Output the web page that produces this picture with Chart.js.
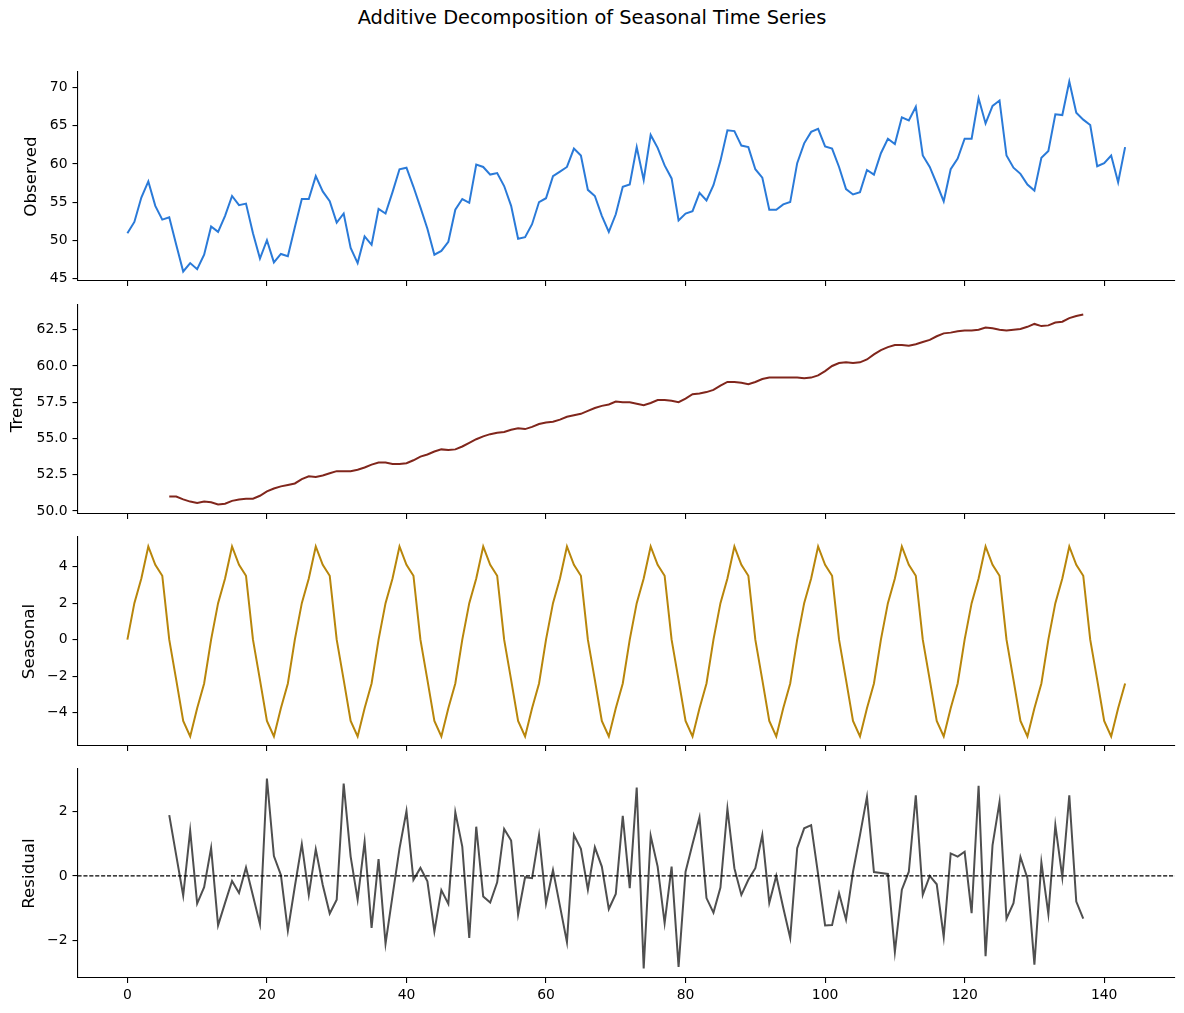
<!DOCTYPE html>
<html>
<head>
<meta charset="utf-8">
<script src="https://cdn.jsdelivr.net/npm/chart.js@4.4.1/dist/chart.umd.min.js"></script>
<style>
html,body{margin:0;padding:0;background:#fff;}
body{width:1184px;height:1013px;position:relative;overflow:hidden;font-family:'DejaVu Sans',sans-serif;}
#title{position:absolute;left:0;width:1184px;top:6px;text-align:center;font-size:19.4px;line-height:24px;color:#000;}
.panel{position:absolute;left:0;width:1184px;}
</style>
</head>
<body>
<div id="title">Additive Decomposition of Seasonal Time Series</div>
<div class="panel" id="p0"><canvas id="c0"></canvas></div>
<div class="panel" id="p1"><canvas id="c1"></canvas></div>
<div class="panel" id="p2"><canvas id="c2"></canvas></div>
<div class="panel" id="p3"><canvas id="c3"></canvas></div>
<script>
// ---------------- DATA ----------------
const timeIndex = Array.from({length: 144}, (_, i) => i);

const observed = [
  50.9, 52.4, 55.6, 57.7, 54.5, 52.7, 53.0, 49.4, 45.9, 47.0, 46.2, 48.1,
  51.8, 51.1, 53.2, 55.8, 54.6, 54.8, 50.9, 47.6, 50.0, 47.1, 48.2, 47.9,
  51.7, 55.4, 55.4, 58.4, 56.4, 55.1, 52.3, 53.5, 49.0, 47.0, 50.5, 49.4,
  54.1, 53.5, 56.3, 59.3, 59.5, 57.0, 54.3, 51.5, 48.1, 48.6, 49.8, 54.0,
  55.4, 54.9, 59.9, 59.6, 58.6, 58.8, 57.1, 54.5, 50.2, 50.4, 52.1, 55.0,
  55.5, 58.4, 59.0, 59.6, 62.0, 61.1, 56.6, 55.8, 53.2, 51.1, 53.4, 57.0,
  57.3, 62.2, 57.9, 63.8, 62.1, 59.8, 58.1, 52.6, 53.5, 53.8, 56.2, 55.2,
  57.2, 60.4, 64.4, 64.3, 62.4, 62.2, 59.3, 58.2, 54.0, 54.0, 54.7, 55.0,
  60.1, 62.7, 64.2, 64.6, 62.3, 62.0, 59.6, 56.7, 56.0, 56.3, 59.2, 58.6,
  61.4, 63.3, 62.6, 66.1, 65.7, 67.5, 61.1, 59.6, 57.4, 55.1, 59.3, 60.7,
  63.3, 63.3, 68.6, 65.3, 67.6, 68.3, 61.1, 59.5, 58.7, 57.3, 56.5, 60.8,
  61.7, 66.5, 66.4, 70.8, 66.7, 65.8, 65.1, 59.7, 60.1, 61.1, 57.6, 62.2
];

// trend and residual are defined from time index 6 to 137
const componentStart = 6;

const trend = [
  51.0, 51.0, 50.8, 50.65, 50.55, 50.65, 50.6, 50.45, 50.5, 50.7, 50.8, 50.85, 50.85, 51.05,
  51.35, 51.55, 51.7, 51.8, 51.9, 52.2, 52.4, 52.35, 52.45, 52.6, 52.75, 52.75, 52.75, 52.85,
  53.0, 53.2, 53.35, 53.35, 53.25, 53.25, 53.3, 53.5, 53.75, 53.9, 54.1, 54.25, 54.2, 54.25,
  54.45, 54.7, 54.95, 55.15, 55.3, 55.4, 55.45, 55.6, 55.7, 55.65, 55.8, 56.0, 56.1, 56.15,
  56.3, 56.5, 56.6, 56.7, 56.9, 57.1, 57.25, 57.35, 57.55, 57.5, 57.5, 57.4, 57.3, 57.45,
  57.65, 57.65, 57.6, 57.5, 57.75, 58.05, 58.1, 58.2, 58.35, 58.65, 58.9, 58.9, 58.85, 58.75,
  58.9, 59.1, 59.2, 59.2, 59.2, 59.2, 59.2, 59.15, 59.2, 59.35, 59.65, 60.0, 60.2, 60.25,
  60.2, 60.25, 60.45, 60.8, 61.1, 61.3, 61.45, 61.45, 61.4, 61.5, 61.65, 61.8, 62.05, 62.25,
  62.3, 62.4, 62.45, 62.45, 62.5, 62.65, 62.6, 62.5, 62.45, 62.5, 62.55, 62.7, 62.9, 62.75,
  62.8, 63.0, 63.05, 63.3, 63.45, 63.55
];

const seasonal = [
  0.0, 2.0, 3.35, 5.1, 4.1, 3.5, 0.0, -2.2, -4.45, -5.3, -3.75, -2.4,
  0.0, 2.0, 3.35, 5.1, 4.1, 3.5, 0.0, -2.2, -4.45, -5.3, -3.75, -2.4,
  0.0, 2.0, 3.35, 5.1, 4.1, 3.5, 0.0, -2.2, -4.45, -5.3, -3.75, -2.4,
  0.0, 2.0, 3.35, 5.1, 4.1, 3.5, 0.0, -2.2, -4.45, -5.3, -3.75, -2.4,
  0.0, 2.0, 3.35, 5.1, 4.1, 3.5, 0.0, -2.2, -4.45, -5.3, -3.75, -2.4,
  0.0, 2.0, 3.35, 5.1, 4.1, 3.5, 0.0, -2.2, -4.45, -5.3, -3.75, -2.4,
  0.0, 2.0, 3.35, 5.1, 4.1, 3.5, 0.0, -2.2, -4.45, -5.3, -3.75, -2.4,
  0.0, 2.0, 3.35, 5.1, 4.1, 3.5, 0.0, -2.2, -4.45, -5.3, -3.75, -2.4,
  0.0, 2.0, 3.35, 5.1, 4.1, 3.5, 0.0, -2.2, -4.45, -5.3, -3.75, -2.4,
  0.0, 2.0, 3.35, 5.1, 4.1, 3.5, 0.0, -2.2, -4.45, -5.3, -3.75, -2.4,
  0.0, 2.0, 3.35, 5.1, 4.1, 3.5, 0.0, -2.2, -4.45, -5.3, -3.75, -2.4,
  0.0, 2.0, 3.35, 5.1, 4.1, 3.5, 0.0, -2.2, -4.45, -5.3, -3.75, -2.4
];

const residual = [
  1.89, 0.64, -0.61, 1.41, -0.86, -0.35, 0.87, -1.54, -0.84, -0.16, -0.53, 0.26, -0.62, -1.5,
  3.03, 0.62, 0.03, -1.7, -0.33, 0.99, -0.59, 0.83, -0.28, -1.17, -0.74, 2.87, 0.6, -0.74,
  1.06, -1.62, 0.52, -2.11, -0.62, 0.85, 2.02, -0.12, 0.25, -0.17, -1.73, -0.44, -0.87, 1.98,
  0.91, -1.93, 1.53, -0.64, -0.83, -0.2, 1.46, 1.1, -1.2, -0.04, -0.07, 1.27, -0.86, 0.18,
  -0.94, -2.06, 1.27, 0.84, -0.43, 0.89, 0.29, -1.03, -0.56, 1.87, -0.38, 2.75, -2.88, 1.25,
  0.29, -1.47, 0.29, -2.83, 0.13, 0.99, 1.82, -0.69, -1.14, -0.36, 2.09, 0.24, -0.59, -0.12,
  0.24, 1.27, -0.84, 0.0, -0.99, -1.93, 0.86, 1.48, 1.58, 0.05, -1.54, -1.53, -0.54, -1.36,
  0.13, 1.27, 2.46, 0.12, 0.09, 0.06, -2.37, -0.43, 0.13, 2.51, -0.59, 0.0, -0.26, -1.9,
  0.7, 0.6, 0.75, -1.16, 2.8, -2.5, 0.96, 2.3, -1.33, -0.85, 0.59, -0.07, -2.76, 0.42,
  -1.19, 1.58, -0.04, 2.51, -0.8, -1.33
];

const xTicks = [0, 20, 40, 60, 80, 100, 120, 140];
const observedTicks = [45, 50, 55, 60, 65, 70];
const trendTicks = [50, 52.5, 55, 57.5, 60, 62.5];
const seasonalTicks = [-4, -2, 0, 2, 4];
const residualTicks = [-2, 0, 2];

// ---------------- HELPERS ----------------
function alignToIndex(arr, start) {
  return timeIndex.map(i => (i >= start && i - start < arr.length) ? arr[i - start] : null);
}
function autoLimits(vals) {
  const v = vals.filter(x => x !== null && x !== undefined);
  const lo = Math.min(...v), hi = Math.max(...v), m = (hi - lo) * 0.05;
  return [lo - m, hi + m];
}
function fmt(v, dec) {
  return (v < 0 ? '\u2212' : '') + Math.abs(v).toFixed(dec);
}

Chart.defaults.font.family = "'DejaVu Sans', sans-serif";
Chart.defaults.color = '#000';

const xLim = autoLimits(timeIndex);
const TICK_FONT = 13.9;
const LABEL_FONT = 16.7;
const PAD_T = 8;
const Y_AXIS_W = 77.5;
const PANEL_H = 209;

const zeroLine = {
  id: 'zeroLine',
  afterDatasetsDraw(chart, args, opts) {
    if (!opts || !opts.enabled) return;
    const {ctx, chartArea: a, scales: {y}} = chart;
    const py = y.getPixelForValue(0);
    ctx.save();
    ctx.strokeStyle = '#000';
    ctx.lineWidth = 1.1;
    ctx.setLineDash([4.1, 1.8]);
    ctx.beginPath();
    ctx.moveTo(a.left, py);
    ctx.lineTo(a.right, py);
    ctx.stroke();
    ctx.restore();
  }
};

const panels = [
  {canvas: 'c0', div: 'p0', label: 'Observed', values: observed, color: '#2a7ad8', ticks: observedTicks, dec: 0, titlePad: 22, top: 72, showX: false, zero: false},
  {canvas: 'c1', div: 'p1', label: 'Trend', values: alignToIndex(trend, componentStart), color: '#80261c', ticks: trendTicks, dec: 1, titlePad: 7.5, top: 305, showX: false, zero: false},
  {canvas: 'c2', div: 'p2', label: 'Seasonal', values: seasonal, color: '#b8860b', ticks: seasonalTicks, dec: 0, titlePad: 20, top: 537, showX: false, zero: false},
  {canvas: 'c3', div: 'p3', label: 'Residual', values: alignToIndex(residual, componentStart), color: '#4f4f4f', ticks: residualTicks, dec: 0, titlePad: 20, top: 769, showX: true, zero: true}
];

panels.forEach(p => {
  const xH = p.showX ? 30 : 6;
  const div = document.getElementById(p.div);
  div.style.top = (p.top - PAD_T) + 'px';
  div.style.height = (PAD_T + PANEL_H + xH) + 'px';
  const yLim = autoLimits(p.values);

  new Chart(document.getElementById(p.canvas), {
    type: 'line',
    data: {
      labels: timeIndex,
      datasets: [{
        data: p.values,
        borderColor: p.color,
        borderWidth: 2,
        pointRadius: 0,
        pointHoverRadius: 0,
        tension: 0,
        fill: false,
        spanGaps: false
      }]
    },
    plugins: [zeroLine],
    options: {
      responsive: true,
      maintainAspectRatio: false,
      animation: false,
      events: [],
      layout: {padding: {top: PAD_T, right: 9, bottom: 0, left: 0}},
      plugins: {
        legend: {display: false},
        tooltip: {enabled: false},
        zeroLine: {enabled: p.zero}
      },
      scales: {
        x: {
          type: 'linear',
          min: xLim[0],
          max: xLim[1],
          bounds: 'data',
          afterBuildTicks: s => { s.ticks = xTicks.map(v => ({value: v})); },
          afterFit: s => { s.height = xH; s.paddingLeft = 0; s.paddingRight = 0; s.paddingTop = 0; s.paddingBottom = 0; },
          grid: {display: true, drawOnChartArea: false, drawTicks: true, tickLength: 5, color: '#000', lineWidth: 1.1},
          border: {display: true, color: '#000', width: 1.1},
          ticks: {
            display: p.showX,
            autoSkip: false,
            maxRotation: 0,
            padding: 4,
            font: {size: TICK_FONT},
            color: '#000',
            callback: v => fmt(v, 0)
          }
        },
        y: {
          type: 'linear',
          min: yLim[0],
          max: yLim[1],
          bounds: 'data',
          afterBuildTicks: s => { s.ticks = p.ticks.map(v => ({value: v})); },
          afterFit: s => { s.width = Y_AXIS_W; s.paddingTop = 0; s.paddingBottom = 0; s.paddingLeft = 0; s.paddingRight = 0; },
          grid: {display: true, drawOnChartArea: false, drawTicks: true, tickLength: 5, color: '#000', lineWidth: 1.1},
          border: {display: true, color: '#000', width: 1.1},
          title: {display: true, text: p.label, font: {size: LABEL_FONT}, color: '#000', padding: {top: p.titlePad, bottom: 0}},
          ticks: {
            autoSkip: false,
            padding: 5,
            font: {size: TICK_FONT},
            color: '#000',
            callback: v => fmt(v, p.dec)
          }
        }
      }
    }
  });
});
</script>
</body>
</html>
